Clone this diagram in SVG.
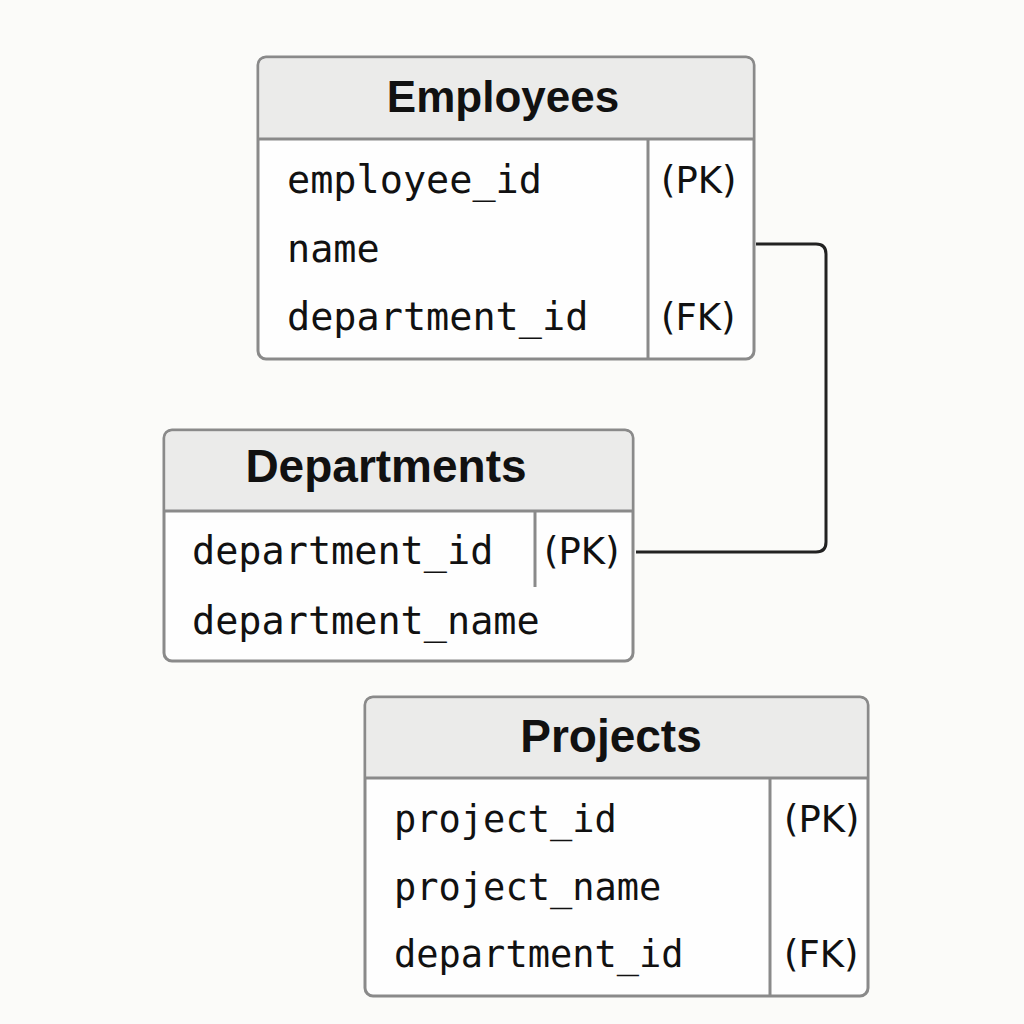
<svg xmlns="http://www.w3.org/2000/svg" width="1024" height="1024" viewBox="0 0 1024 1024">
<style>
.box{fill:#fefefe;stroke:#8a8a8a;stroke-width:3}
.hdr{fill:#ebebea}
.sep{stroke:#8a8a8a;stroke-width:3;fill:none}
.title{font-family:"Liberation Sans",Arial,sans-serif;font-weight:bold;font-size:44px;fill:#111;text-anchor:middle}
.f{font-family:"DejaVu Sans Mono",monospace;font-size:38.5px;fill:#111}
.fp{font-family:"DejaVu Sans Mono",monospace;font-size:37px;fill:#111}
.k{font-family:"DejaVu Sans",sans-serif;font-size:37px;fill:#111}
.conn{fill:none;stroke:#222;stroke-width:3}
</style>
<rect width="1024" height="1024" fill="#fbfbf9"/>
<g id="connectors">
<path class="conn" d="M756,244 H816 Q826,244 826,254 V542 Q826,552 816,552 H636"/>
</g>
<g id="employees">
<rect class="box" x="258" y="57" width="496" height="302" rx="8"/>
<path class="hdr" d="M266,58.5 H746 Q752.5,58.5 752.5,65 V139 H259.5 V65 Q259.5,58.5 266,58.5 Z"/>
<line class="sep" x1="258" y1="139" x2="754" y2="139"/>
<line class="sep" x1="648" y1="139" x2="648" y2="359"/>
<text class="title" x="503" y="112">Employees</text>
<text class="f" x="287" y="193">employee_id</text>
<text class="f" x="287" y="262">name</text>
<text class="f" x="287" y="330">department_id</text>
<text class="k" x="661" y="193">(PK)</text>
<text class="k" x="661" y="330">(FK)</text>
</g>
<g id="departments">
<rect class="box" x="164" y="430" width="469" height="231" rx="8"/>
<path class="hdr" d="M172,431.5 H625 Q631.5,431.5 631.5,438 V511 H165.5 V438 Q165.5,431.5 172,431.5 Z"/>
<line class="sep" x1="164" y1="511" x2="633" y2="511"/>
<line class="sep" x1="535" y1="511" x2="535" y2="587"/>
<text class="title" x="386" y="482" style="font-size:46px">Departments</text>
<text class="f" x="192" y="564">department_id</text>
<text class="f" x="192" y="634">department_name</text>
<text class="k" x="544" y="564">(PK)</text>
</g>
<g id="projects">
<rect class="box" x="365" y="697" width="503" height="299" rx="8"/>
<path class="hdr" d="M373,698.5 H860 Q866.5,698.5 866.5,705 V778 H366.5 V705 Q366.5,698.5 373,698.5 Z"/>
<line class="sep" x1="365" y1="778" x2="868" y2="778"/>
<line class="sep" x1="770" y1="778" x2="770" y2="996"/>
<text class="title" x="611" y="752" style="font-size:46px">Projects</text>
<text class="fp" x="394" y="832">project_id</text>
<text class="fp" x="394" y="900">project_name</text>
<text class="fp" x="394" y="967">department_id</text>
<text class="k" x="784" y="832">(PK)</text>
<text class="k" x="784" y="967">(FK)</text>
</g>
</svg>
